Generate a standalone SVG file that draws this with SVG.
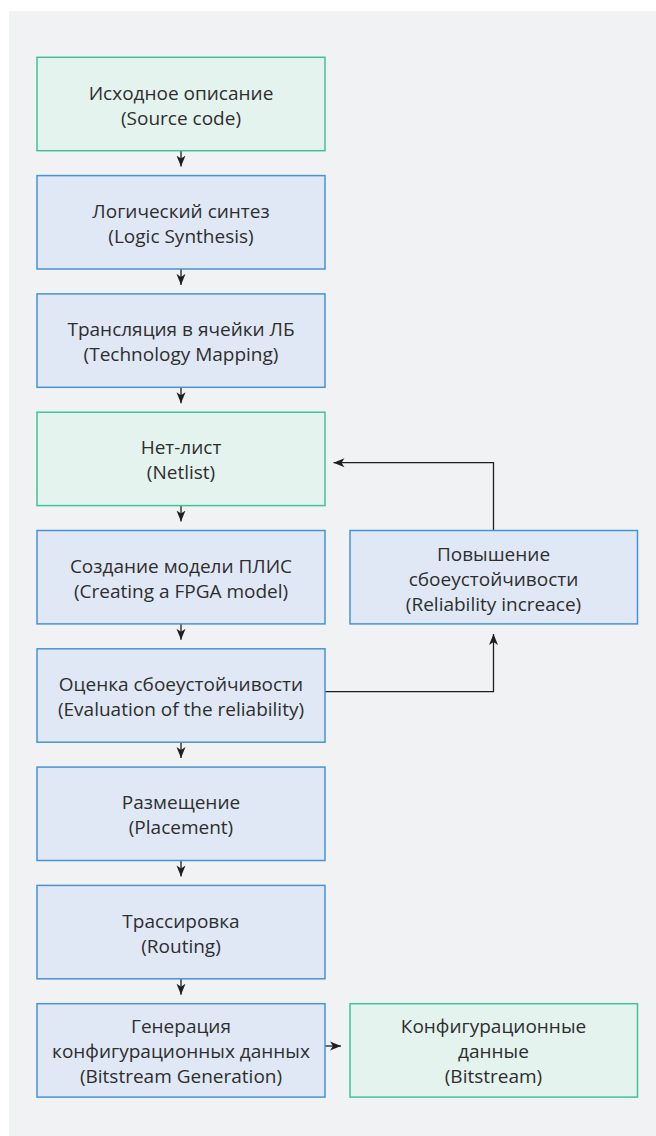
<svg xmlns="http://www.w3.org/2000/svg" width="656" height="1136" viewBox="0 0 656 1136">
<style>
.bg{fill:#f1f2f4}
.g{fill:#e4f3ee;stroke:#3fc397;stroke-width:1.5}
.b{fill:#e0e8f5;stroke:#4793d8;stroke-width:1.5}
text{font-family:"Open Sans","Noto Sans","DejaVu Sans",sans-serif;font-size:19px;fill:#2e2e2e;text-anchor:middle}
.c{fill:none;stroke:#1f1f1f;stroke-width:1.3}
</style>
<defs>
<marker id="ah" viewBox="0 0 12 10" refX="11" refY="5" markerWidth="12" markerHeight="10" markerUnits="userSpaceOnUse" orient="auto">
<path d="M0,0.5 L11,5 L0,9.5 L3,5 Z" fill="#1f1f1f"/>
</marker>
</defs>
<rect class="bg" x="9" y="11" width="647" height="1125"/>
<g id="connectors">
<path class="c" d="M181,150.7 V166.6" marker-end="url(#ah)"/>
<path class="c" d="M181,269 V284.9" marker-end="url(#ah)"/>
<path class="c" d="M181,387.3 V403.2" marker-end="url(#ah)"/>
<path class="c" d="M181,505.6 V521.5" marker-end="url(#ah)"/>
<path class="c" d="M181,623.9 V639.8" marker-end="url(#ah)"/>
<path class="c" d="M181,742.2 V758.1" marker-end="url(#ah)"/>
<path class="c" d="M181,860.5 V876.4" marker-end="url(#ah)"/>
<path class="c" d="M181,978.8 V994.7" marker-end="url(#ah)"/>
<path class="c" d="M325,1046 H341" marker-end="url(#ah)"/>
<path class="c" d="M325,691.7 H493.5 V634" marker-end="url(#ah)"/>
<path class="c" d="M493.5,530.5 V462.7 H333.5" marker-end="url(#ah)"/>
</g>
<g id="n1"><rect class="g" x="37" y="57.3" width="288" height="93.4"/><text x="181" y="99.5">Исходное описание</text><text x="181" y="124.5">(Source code)</text></g>
<g id="n2"><rect class="b" x="37" y="175.6" width="288" height="93.4"/><text x="181" y="217.8">Логический синтез</text><text x="181" y="242.8">(Logic Synthesis)</text></g>
<g id="n3"><rect class="b" x="37" y="293.9" width="288" height="93.4"/><text x="181" y="336.1">Трансляция в ячейки ЛБ</text><text x="181" y="361.1">(Technology Mapping)</text></g>
<g id="n4"><rect class="g" x="37" y="412.2" width="288" height="93.4"/><text x="181" y="454.4">Нет-лист</text><text x="181" y="479.4">(Netlist)</text></g>
<g id="n5"><rect class="b" x="37" y="530.5" width="288" height="93.4"/><text x="181" y="572.7">Создание модели ПЛИС</text><text x="181" y="597.7">(Creating a FPGA model)</text></g>
<g id="n6"><rect class="b" x="37" y="648.8" width="288" height="93.4"/><text x="181" y="691">Оценка сбоеустойчивости</text><text x="181" y="716">(Evaluation of the reliability)</text></g>
<g id="n7"><rect class="b" x="37" y="767.1" width="288" height="93.4"/><text x="181" y="809.3">Размещение</text><text x="181" y="834.3">(Placement)</text></g>
<g id="n8"><rect class="b" x="37" y="885.4" width="288" height="93.4"/><text x="181" y="927.6">Трассировка</text><text x="181" y="952.6">(Routing)</text></g>
<g id="n9"><rect class="b" x="37" y="1003.7" width="288" height="93.4"/><text x="181" y="1032.7">Генерация</text><text x="181" y="1057.7">конфигурационных данных</text><text x="181" y="1082.7">(Bitstream Generation)</text></g>
<g id="r1"><rect class="b" x="350" y="530.5" width="287.5" height="93.4"/><text x="493.5" y="560.5">Повышение</text><text x="493.5" y="585.5">сбоеустойчивости</text><text x="493.5" y="610.5">(Reliability increace)</text></g>
<g id="r2"><rect class="g" x="350" y="1003.7" width="287.5" height="93.4"/><text x="493.5" y="1032.7">Конфигурационные</text><text x="493.5" y="1057.7">данные</text><text x="493.5" y="1082.7">(Bitstream)</text></g>
</svg>
